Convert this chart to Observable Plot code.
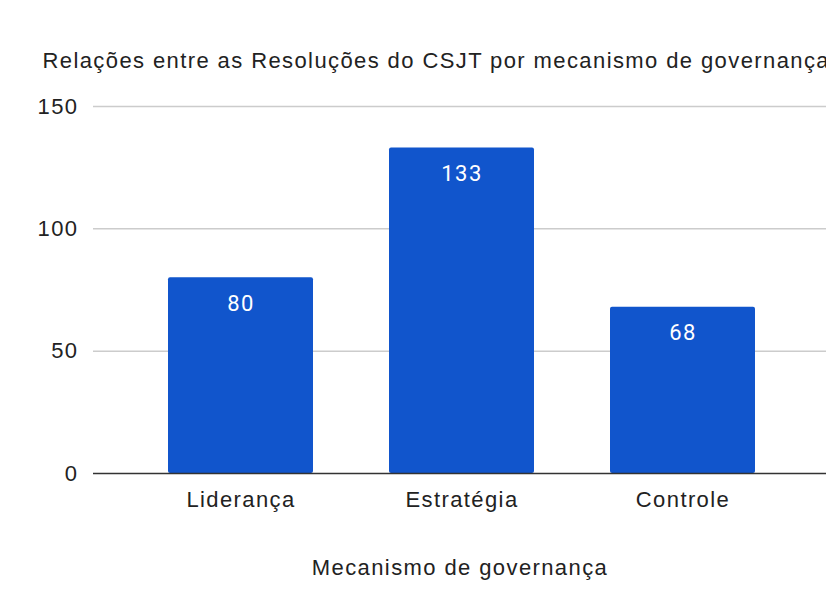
<!DOCTYPE html>
<html>
<head>
<meta charset="utf-8">
<script src="https://cdn.jsdelivr.net/npm/d3@7"></script>
<script src="https://cdn.jsdelivr.net/npm/@observablehq/plot@0.6"></script>
<style>
  html, body { margin: 0; padding: 0; background: white; overflow: hidden; }
  #chart { width: 826px; height: 601px; overflow: hidden; }
  #chart svg text { letter-spacing: 1.4px; }
</style>
</head>
<body>
<div id="chart"></div>
<script>
const categories = ["Liderança", "Estratégia", "Controle"];
const values = [80, 133, 68];
const yTicks = [0, 50, 100, 150];
const titleText = "Relações entre as Resoluções do CSJT por mecanismo de governança";
const xTitle = "Mecanismo de governança";

const data = categories.map((c, i) => ({category: c, value: values[i]}));

const chart = Plot.plot({
  width: 826,
  height: 601,
  marginTop: 106,
  marginBottom: 128,
  marginLeft: 93,
  marginRight: 0,
  style: {fontFamily: "'Liberation Sans', Arial, sans-serif", fontSize: "22px", color: "#222", background: "white"},
  x: {domain: categories, range: [101.5, 821.5], paddingInner: 0.345, paddingOuter: 0.3, label: null},
  y: {domain: [0, 150], ticks: yTicks, label: null},
  marks: [
    Plot.ruleY(yTicks.filter(d => d > 0), {stroke: "#cccccc", strokeWidth: 1.5}),
    Plot.barY(data, {x: "category", y: "value", fill: "#1155cc", rx: 2}),
    Plot.ruleY([0], {stroke: "#333333", strokeWidth: 1.5}),
    Plot.axisY({ticks: yTicks, tickSize: 0, tickPadding: 15, fontSize: 22, label: null}),
    Plot.axisX({tickSize: 0, tickPadding: 18, fontSize: 22, label: null}),
    Plot.text(data, {x: "category", y: "value", text: d => String(d.value), fill: "white", dy: 26, fontSize: 22, fontFamily: "Roboto, sans-serif", lineAnchor: "middle"}),
    Plot.text([xTitle], {frameAnchor: "bottom", dy: 94, text: d => d, fontSize: 22, lineAnchor: "middle", fill: "#222"}),
    Plot.text([titleText], {frameAnchor: "top-left", dx: -51, dy: -46, text: d => d, textAnchor: "start", lineAnchor: "middle", fontSize: 22, fill: "#222"})
  ]
});
document.getElementById("chart").appendChild(chart);
</script>
</body>
</html>
